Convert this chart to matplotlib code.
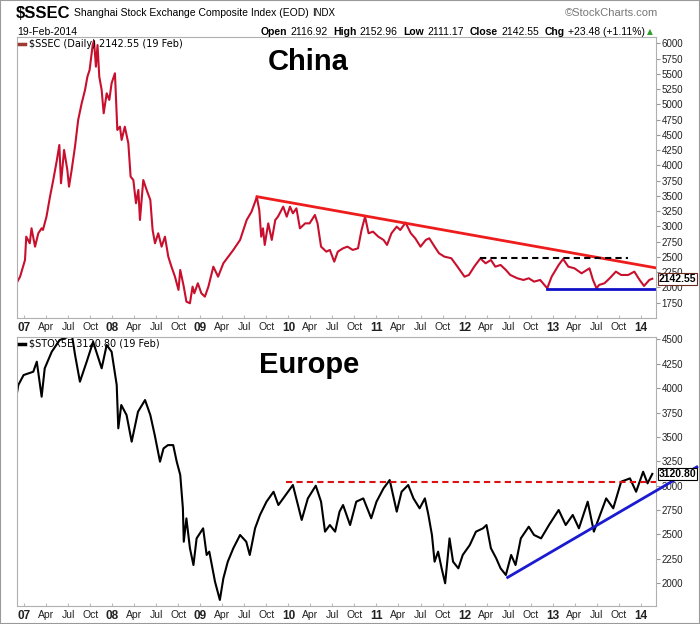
import matplotlib
matplotlib.use("Agg")
import matplotlib.pyplot as plt
from matplotlib.patches import Rectangle

# ---- data (x = fractional year) ----
ssec_t = [2006.91, 2006.95, 2007.006, 2007.02, 2007.06, 2007.08, 2007.12, 2007.157, 2007.195, 2007.21,
          2007.25, 2007.29, 2007.327, 2007.365, 2007.396, 2007.415, 2007.45, 2007.487, 2007.506, 2007.536,
          2007.574, 2007.61, 2007.65, 2007.688, 2007.715, 2007.74, 2007.775, 2007.79, 2007.812, 2007.83,
          2007.85, 2007.877, 2007.90, 2007.934, 2007.964, 2007.99, 2008.028, 2008.055, 2008.085, 2008.104,
          2008.14, 2008.18, 2008.206, 2008.237, 2008.267, 2008.294, 2008.312, 2008.35, 2008.388, 2008.43,
          2008.456, 2008.483, 2008.52, 2008.558, 2008.596, 2008.634, 2008.67, 2008.71, 2008.75, 2008.77,
          2008.81, 2008.84, 2008.88, 2008.91, 2008.93, 2008.97, 2009.01, 2009.05, 2009.09, 2009.146,
          2009.20, 2009.26, 2009.316, 2009.373, 2009.45, 2009.525, 2009.58, 2009.64, 2009.668, 2009.69,
          2009.71, 2009.73, 2009.77, 2009.81, 2009.85, 2009.88, 2009.94, 2009.98, 2010.017, 2010.05,
          2010.09, 2010.13, 2010.19, 2010.24, 2010.30, 2010.33, 2010.37, 2010.43, 2010.47, 2010.52,
          2010.56, 2010.62, 2010.67, 2010.73, 2010.79, 2010.83, 2010.87, 2010.91, 2010.96, 2011.02,
          2011.08, 2011.12, 2011.17, 2011.23, 2011.27, 2011.33, 2011.39, 2011.44, 2011.50, 2011.56,
          2011.60, 2011.66, 2011.71, 2011.77, 2011.85, 2011.92, 2012.00, 2012.05, 2012.11, 2012.18,
          2012.24, 2012.30, 2012.35, 2012.41, 2012.47, 2012.52, 2012.60, 2012.67, 2012.73, 2012.79,
          2012.86, 2012.94, 2012.99, 2013.07, 2013.12, 2013.18, 2013.25, 2013.33, 2013.42, 2013.46,
          2013.50, 2013.53, 2013.59, 2013.65, 2013.72, 2013.78, 2013.86, 2013.93, 2013.99, 2014.04,
          2014.10, 2014.134]
ssec_v = [2068, 2176, 2450, 2832, 2723, 2969, 2668, 2887, 2969, 2942,
          3160, 3487, 3760, 4060, 4334, 3706, 4252, 3924, 3651, 3924,
          4306, 4743, 5017, 5235, 5453, 5563, 5972, 6040, 5617, 5972,
          5453, 5235, 4853, 5181, 5072, 5345, 5509, 4580, 4634, 4416,
          4634, 4362, 3815, 3760, 3379, 3597, 3105, 3760, 3597, 3433,
          2941, 2723, 2887, 2668, 2832, 2504, 2340, 2176, 1959, 2286,
          2013, 1767, 1740, 2013, 1904, 2068, 1904, 1849, 2013, 2340,
          2176, 2396, 2504, 2614, 2778, 3105, 3241, 3480, 3269, 2832,
          2968, 2696, 3050, 2778, 3105, 3159, 3323, 3159, 3323, 3214,
          3296, 2968, 3050, 3050, 3187, 3050, 2668, 2586, 2614, 2422,
          2586, 2641, 2668, 2614, 2641, 2941, 3159, 2887, 2914, 2832,
          2778, 2696, 2887, 2996, 2941, 3061, 2887, 2805, 2668, 2778,
          2805, 2668, 2560, 2505, 2478, 2340, 2176, 2204, 2340, 2475,
          2395, 2450, 2340, 2368, 2286, 2204, 2150, 2122, 2150, 2095,
          2122, 1986, 2176, 2368, 2465, 2340, 2313, 2231, 2313, 2122,
          1986, 2041, 2068, 2150, 2259, 2204, 2204, 2259, 2122, 2024,
          2122, 2142.55]

stox_t = [2006.911, 2006.93, 2006.99, 2007.10, 2007.14, 2007.195, 2007.23, 2007.31, 2007.40, 2007.54,
          2007.575, 2007.63, 2007.707, 2007.78, 2007.877, 2007.934, 2007.99, 2008.048, 2008.066, 2008.10,
          2008.16, 2008.218, 2008.29, 2008.37, 2008.43, 2008.48, 2008.54, 2008.58, 2008.63, 2008.69,
          2008.73, 2008.77, 2008.80, 2008.81, 2008.84, 2008.88, 2008.92, 2008.956, 2009.03, 2009.07,
          2009.10, 2009.165, 2009.22, 2009.26, 2009.31, 2009.373, 2009.45, 2009.52, 2009.56, 2009.62,
          2009.676, 2009.75, 2009.83, 2009.885, 2009.94, 2010.05, 2010.15, 2010.22, 2010.31, 2010.37,
          2010.415, 2010.47, 2010.53, 2010.58, 2010.62, 2010.70, 2010.77, 2010.85, 2010.94, 2011.00,
          2011.08, 2011.15, 2011.23, 2011.285, 2011.36, 2011.42, 2011.49, 2011.55, 2011.59, 2011.63,
          2011.66, 2011.70, 2011.74, 2011.78, 2011.83, 2011.87, 2011.93, 2011.98, 2012.06, 2012.13,
          2012.21, 2012.25, 2012.30, 2012.36, 2012.41, 2012.47, 2012.53, 2012.58, 2012.64, 2012.73,
          2012.79, 2012.87, 2012.96, 2013.07, 2013.15, 2013.23, 2013.30, 2013.40, 2013.47, 2013.54,
          2013.61, 2013.69, 2013.78, 2013.88, 2013.95, 2014.03, 2014.08, 2014.134]
stox_v = [3929, 4032, 4134, 4168, 4271, 3912, 4203, 4373, 4493, 4540,
          4339, 4066, 4271, 4475, 4203, 4442, 4373, 4032, 3588, 3827,
          3724, 3451, 3758, 3878, 3724, 3519, 3246, 3382, 3416, 3416,
          3246, 3110, 2768, 2426, 2665, 2359, 2187, 2460, 2563, 2290,
          2324, 2016, 1829, 2051, 2221, 2359, 2495, 2426, 2290, 2563,
          2700, 2836, 2938, 2802, 2870, 3007, 2649, 2870, 3000, 2836,
          2529, 2597, 2529, 2734, 2802, 2597, 2836, 2870, 2666, 2836,
          2973, 3058, 2734, 2938, 3007, 2870, 2768, 2870, 2700, 2495,
          2221, 2324, 2153, 2000, 2460, 2221, 2153, 2290, 2392, 2529,
          2563, 2597, 2359, 2256, 2153, 2085, 2290, 2187, 2460, 2580,
          2495, 2460, 2597, 2751, 2597, 2700, 2563, 2836, 2529, 2700,
          2870, 2768, 3041, 3075, 2938, 3143, 3024, 3120.80]

# drawn lines (start/end)
china_trend_t = [2009.642, 2014.176]
china_trend_v = [3487, 2320]
china_res_t = [2012.176, 2013.858]
china_res_v = [2478, 2478]
china_sup_t = [2012.934, 2014.176]
china_sup_v = [1975, 1975]
europe_res_t = [2009.97, 2014.176]
europe_res_v = [3035, 3035]
europe_sup_t = [2012.49, 2014.64]
europe_sup_v = [2060, 3192]

years = [2007, 2008, 2009, 2010, 2011, 2012, 2013, 2014]
year_labels = ['07', '08', '09', '10', '11', '12', '13', '14']
month_labels = ['Apr', 'Jul', 'Oct']

quote_items = [('Open', True), ('2116.92', False), ('High', True), ('2152.96', False),
               ('Low', True), ('2111.17', False), ('Close', True), ('2142.55', False),
               ('Chg', True), ('+23.48 (+1.11%)', False)]

W, H = 700, 624
fig = plt.figure(figsize=(7, 6.24), dpi=100)
plt.rcParams['font.family'] = ['Liberation Sans', 'DejaVu Sans']


def fx(px):
    return px / W


def fy(py):
    return 1 - py / H


ax1 = fig.add_axes([fx(17), fy(318), fx(656) - fx(17), fy(37) - fy(318)])
ax2 = fig.add_axes([fx(17), fy(606), fx(656) - fx(17), fy(337) - fy(606)])

# x ticks: quarter ticks with year / month labels
xt, xl = [], []
for y, lab in zip(years, year_labels):
    xt.append(y)
    xl.append(lab)
    if y < years[-1]:
        for k, m in enumerate(month_labels):
            xt.append(y + 0.25 * (k + 1))
            xl.append(m)

for ax, yl, yt in [(ax1, (1499, 6103), range(1750, 6001, 250)),
                   (ax2, (1767, 4524), range(2000, 4501, 250))]:
    ax.set_xlim(2006.915, 2014.176)
    ax.set_ylim(*yl)
    ax.yaxis.tick_right()
    ax.set_yticks(list(yt))
    ax.tick_params(axis='y', direction='out', length=3, color='#999999',
                   labelsize=7, labelcolor='#222222', pad=1)
    ax.set_xticks(xt)
    ax.set_xticklabels(xl)
    ax.tick_params(axis='x', direction='in', length=2, color='#bbbbbb',
                   labelsize=7.5, labelcolor='#222222', pad=3)
    for t in ax.get_xticklabels():
        if t.get_text() in year_labels:
            t.set_fontweight('bold')
            t.set_fontsize(8.5)
    for s in ax.spines.values():
        s.set_color('#b0b0b0')
        s.set_linewidth(0.8)

# ---- China panel ----
ax1.plot(ssec_t, ssec_v, color='#c8102e', lw=1.5)
ax1.plot(china_trend_t, china_trend_v, color='#ee1c1c', lw=2)
ax1.plot(china_res_t, china_res_v, color='black', lw=1.5, ls=(0, (3, 2)))
ax1.plot(china_sup_t, china_sup_v, color='#1010c8', lw=2)
ax1.text(0.455, 0.91, 'China', transform=ax1.transAxes, ha='center', va='center',
         fontsize=21, fontweight='bold')
ax1.plot([], [], color='#a03a30', lw=2.5, label=r'\$SSEC (Daily) 2142.55 (19 Feb)')
ax1.legend(loc='upper left', frameon=False, handlelength=0.6, handletextpad=0.4,
           borderaxespad=0.1, borderpad=0.1,
           prop={'family': 'DejaVu Sans', 'size': 7})
ax1.annotate('2142.55', xy=(1.0, ssec_v[-1]), xycoords=('axes fraction', 'data'),
             xytext=(2, 0), textcoords='offset points', ha='left', va='center',
             fontsize=7.5, fontweight='bold', annotation_clip=False, zorder=10,
             bbox=dict(boxstyle='square,pad=0.1', fc='white', ec='#6a2a20', lw=0.8))

# ---- Europe panel ----
ax2.plot(stox_t, stox_v, color='black', lw=1.5)
ax2.plot(europe_res_t, europe_res_v, color='#dd1111', lw=1.5, ls=(0, (3, 2)))
ax2.plot(europe_sup_t, europe_sup_v, color='#1a1ad0', lw=2, clip_on=False, zorder=5)
ax2.text(0.457, 0.896, 'Europe', transform=ax2.transAxes, ha='center', va='center',
         fontsize=21, fontweight='bold')
ax2.plot([], [], color='black', lw=2.5, label=r'\$STOX5E 3120.80 (19 Feb)')
ax2.legend(loc='upper left', frameon=False, handlelength=0.6, handletextpad=0.4,
           borderaxespad=0.1, borderpad=0.1,
           prop={'family': 'DejaVu Sans', 'size': 7})
ax2.annotate('3120.80', xy=(1.0, stox_v[-1]), xycoords=('axes fraction', 'data'),
             xytext=(2, 0), textcoords='offset points', ha='left', va='center',
             fontsize=7.5, fontweight='bold', annotation_clip=False, zorder=10,
             bbox=dict(boxstyle='square,pad=0.1', fc='white', ec='black', lw=0.8))

# ---- header: texts chained by their measured widths ----
renderer = fig.canvas.get_renderer()


def width_px(t):
    return t.get_window_extent(renderer).width


t0 = fig.text(fx(16), fy(13), r'\$SSEC', fontsize=12, fontweight='bold', va='center')
x = 16 + width_px(t0) + 3
t1 = fig.text(fx(x), fy(13), 'Shanghai Stock Exchange Composite Index (EOD)', fontsize=7.5,
              va='center')
x += width_px(t1) + 4
fig.text(fx(x), fy(13), 'INDX', fontsize=7, va='center')
fig.text(fx(658), fy(13), '\u00a9StockCharts.com', fontsize=8, color='#777777',
         va='center', ha='right')
fig.text(fx(17), fy(32), '19-Feb-2014', fontsize=7.5, va='center')

# right-aligned quote line, laid out from the right end leftwards
x = 645
for txt, bold in reversed(quote_items):
    t = fig.text(fx(x), fy(32), txt, fontsize=7.5, va='center', ha='right',
                 fontweight='bold' if bold else 'normal')
    x -= width_px(t) + (6 if bold else 3)
fig.text(fx(647), fy(32), '\u25b2', fontsize=5.5, color='#2e9e2e', va='center',
         family='DejaVu Sans')

fig.patches.append(Rectangle((0, 0), 1, 1, transform=fig.transFigure, fill=False,
                             ec='#9a9a9a', lw=1.5))

fig.savefig('out.png', dpi=100)
